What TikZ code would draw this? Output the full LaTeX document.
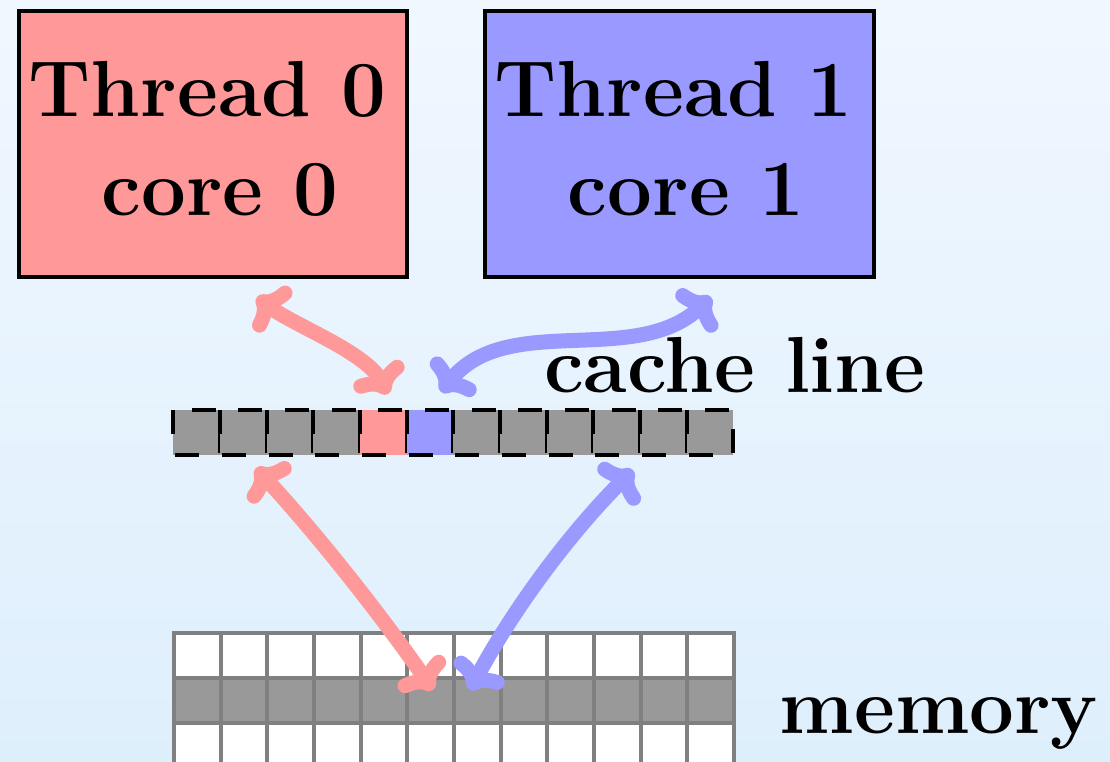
\documentclass[tikz,border=0pt]{standalone}
\usetikzlibrary{arrows.meta}
\definecolor{bgtop}{RGB}{240,247,255}
\definecolor{bgbot}{RGB}{222,239,252}
\definecolor{tred}{RGB}{255,153,153}
\definecolor{tblue}{RGB}{153,153,255}
\definecolor{cellgray}{RGB}{153,153,153}
\definecolor{gridgray}{RGB}{128,128,128}
\begin{document}
\begin{tikzpicture}[x=1pt,y=-1pt,
  bigtext/.style={font=\fontsize{79.5}{95}\selectfont\bfseries, inner sep=0pt},
  threadbox/.style={draw=black, line width=4pt, minimum width=388.5pt, minimum height=265.5pt, inner sep=0pt},
  cachecell/.style={draw=black, line width=4pt, dash pattern=on 24pt off 23pt},
  memgrid/.style={draw=gridgray, line width=4pt, line cap=rect},
  link/.style={line width=15pt, line cap=round,
    {Computer Modern Rightarrow[length=27pt,width=56pt]}-{Computer Modern Rightarrow[length=27pt,width=56pt]}}
]
\path[use as bounding box, top color=bgtop, bottom color=bgbot] (0,0) rectangle (1110,762);

% thread boxes
\node[threadbox, fill=tred] (core0) at (212.75,143.75) {};
\node[threadbox, fill=tblue] (core1) at (679.25,143.75) {};
\node[bigtext, anchor=base] (core0a) at (207.3,116.7) {Thread 0};
\node[bigtext, anchor=base] (core0b) at (220,215) {core 0};
\node[bigtext, anchor=base] (core1a) at (673.3,116.7) {Thread 1};
\node[bigtext, anchor=base] (core1b) at (686.2,215) {core 1};

% cache line
\foreach \i/\c in {0/cellgray,1/cellgray,2/cellgray,3/cellgray,4/tred,5/tblue,6/cellgray,7/cellgray,8/cellgray,9/cellgray,10/cellgray,11/cellgray}
  \filldraw[cachecell, fill=\c] ({173.3+46.667*\i},410) -- ++(0,45) -- ++(46.667,0) -- ++(0,-45) -- cycle;
\node[bigtext, anchor=base west] (cachelbl) at (544,392.7) {cache line};

% memory
\fill[white] (174,632.7) rectangle (734,677.7);
\fill[cellgray] (174,677.7) rectangle (734,722.7);
\fill[white] (174,722.7) rectangle (734,770);
\foreach \i in {0,...,12} \draw[memgrid] ({174+46.667*\i},632.7) -- ({174+46.667*\i},770);
\foreach \y in {632.7,677.7,722.7} \draw[memgrid] (174,\y) -- (734,\y);
\node[bigtext, anchor=base west] (memlbl) at (779.5,733.3) {memory};

% connector end points
\coordinate (r0core) at (257,297);
\coordinate (r0cache) at (388,394);
\coordinate (b1cache) at (441,392);
\coordinate (b1core) at (711,297);
\coordinate (r0low) at (256,468);
\coordinate (r0mem) at (433,690);
\coordinate (b1low) at (633,470);
\coordinate (b1mem) at (470,690);

% connectors
\draw[link, tred] (r0core) .. controls (291,324) and (366,352) .. (r0cache);
\draw[link, tblue] (b1cache) .. controls (506.6,310.3) and (635.9,368.5) .. (b1core);
\draw[link, tred] (r0low) .. controls (319.3,536.9) and (380.7,614.7) .. (r0mem);
\draw[link, tblue] (b1low) .. controls (568.7,533.9) and (512.1,611.1) .. (b1mem);
\end{tikzpicture}
\end{document}
